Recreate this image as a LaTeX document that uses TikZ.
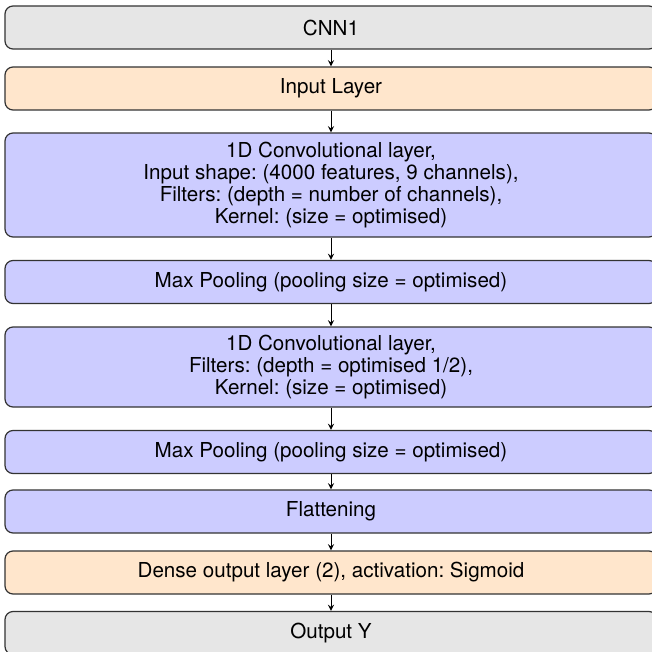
\documentclass[tikz,border=0pt]{standalone}
\usepackage{fontspec}
\setmainfont{TeX Gyre Heros}
\usetikzlibrary{arrows,positioning,shapes}
\frenchspacing

\definecolor{greybox}{HTML}{E6E6E6}
\definecolor{orangebox}{HTML}{FFE6CC}
\definecolor{bluebox}{HTML}{CCCCFF}

\begin{document}
\begin{tikzpicture}[x=1pt,y=-1pt,>=stealth,
    layer/.style={draw=black!80,line width=0.6pt,rounded corners=4pt,
        minimum width=326pt,minimum height=21.5pt,align=center,
        font=\fontsize{10.3}{10.9}\selectfont},
    io/.style={layer,fill=greybox},
    dense/.style={layer,fill=orangebox},
    conv/.style={layer,fill=bluebox}]
    \useasboundingbox (0,0) rectangle (326,326);

    \node[io] (cnn) at (165.5,13.75) {CNN1};
    \node[dense] (input) at (165.5,44.25) {Input Layer};
    \node[conv,minimum height=52pt] (conv1) at (165.5,92.5)
        {1D Convolutional layer,\\Input shape: (4000 features, 9 channels),\\Filters: (depth = number of channels),\\Kernel: (size = optimised)};
    \node[conv] (pool1) at (165.5,141) {Max Pooling (pooling size = optimised)};
    \node[conv,minimum height=40pt] (conv2) at (165.5,183.5)
        {1D Convolutional layer,\\Filters: (depth = optimised 1/2),\\Kernel: (size = optimised)};
    \node[conv] (pool2) at (165.5,226) {Max Pooling (pooling size = optimised)};
    \node[conv] (flat) at (165.5,255.75) {Flattening};
    \node[dense] (out) at (165.5,286.25) {Dense output layer (2), activation: Sigmoid};
    \node[io] (y) at (165.5,316.5) {Output Y};

    \foreach \from/\to in {cnn/input,input/conv1,conv1/pool1,pool1/conv2,conv2/pool2,pool2/flat,flat/out,out/y}
    \draw[->,line width=0.4pt] (\from) -- (\to);
\end{tikzpicture}
\end{document}
